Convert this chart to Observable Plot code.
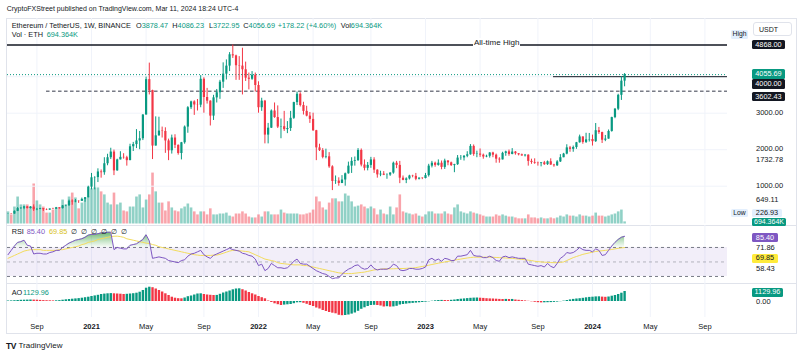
<!DOCTYPE html>
<html><head><meta charset="utf-8">
<script src="https://cdn.jsdelivr.net/npm/d3@7"></script>
<script src="https://cdn.jsdelivr.net/npm/@observablehq/plot@0.6"></script>
<style>
html,body{margin:0;padding:0;background:#fff;}
#root{position:relative;width:800px;height:357px;overflow:hidden;font-family:"Liberation Sans",Arial,sans-serif;color:#131722;background:#fff;}
.abs{position:absolute;white-space:nowrap;}
#root > svg{position:absolute;}
</style></head><body><div id="root"></div><script>
// ===== DATA (weekly ETH/USDT candles, Binance, first week starting 2020-07-06) =====
const firstWeek = "2020-07-06";
const opens = [
241,242,236,311,386,395,433,388,428,353,
365,385,355,346,375,369,407,386,460,465,
590,570,590,585,640,685,975,1230,1236,1390,
1370,1615,1780,1935,1420,1720,1790,1780,1700,2080,
2140,2240,2300,2950,3920,3620,2100,2380,2510,2500,
2240,1970,2320,2120,1895,2190,2620,3150,3310,3225,
3220,3930,3430,3330,2920,3420,3560,3850,4070,4290,
4600,4570,4300,4290,4190,3960,3930,4040,3760,3150,
3330,2400,2590,3060,2880,2620,2630,2550,2580,2860,
3290,3520,3210,3050,2920,2830,2520,2050,1975,1790,
1805,1530,1130,1140,1075,1170,1340,1550,1680,1700,
1980,1580,1490,1570,1720,1440,1310,1330,1300,1305,
1360,1630,1570,1220,1160,1200,1280,1270,1190,1220,
1210,1290,1550,1630,1570,1630,1515,1690,1640,1565,
1590,1770,1775,1820,1860,2090,1870,1880,1850,1800,
1820,1910,1850,1740,1720,1900,1940,1870,1935,1890,
1860,1830,1850,1680,1650,1630,1620,1640,1590,1670,
1580,1560,1665,1780,1880,2050,2010,2060,2190,2350,
2200,2270,2280,2220,2520,2470,2260,2290,2500,2880,
3110,3490,3878.47];
const highs = [
249,245,322,415,410,445,443,440,488,390,
395,387,376,379,396,419,412,469,480,620,
625,635,600,675,690,1000,1350,1260,1476,1445,
1780,1875,2040,1990,1740,1945,1890,1820,2150,2200,
2550,2500,2960,3990,4372,3630,2900,2890,2620,2600,
2290,2400,2410,2130,2200,2650,3180,3330,3340,3375,
4030,3970,3680,3340,3490,3650,3900,4380,4460,4660,
4868,4590,4550,4780,4400,4100,4140,4100,3860,3410,
3350,2720,3090,3280,3200,2840,3050,2770,3050,3300,
3580,3560,3300,3190,3020,3000,2530,2150,2030,2015,
1920,1560,1280,1230,1290,1360,1660,1780,1800,2030,
2020,1720,1650,1790,1780,1450,1410,1400,1340,1370,
1660,1680,1680,1280,1230,1300,1300,1350,1230,1230,
1350,1600,1680,1660,1720,1690,1740,1700,1660,1600,
1840,1840,1840,1945,2140,2130,1960,2020,1880,1850,
1920,1930,1880,1780,1930,1960,1990,2030,1950,1890,
1880,1870,1860,1740,1750,1660,1650,1680,1690,1750,
1600,1700,1865,1900,2135,2090,2100,2200,2400,2350,
2450,2445,2400,2717,2610,2480,2390,2540,2890,3130,
3520,4000,4086.23];
const lows = [
236,226.93,234,304,367,357,375,376,309,330,
357,308,332,335,360,365,370,375,438,448,
478,545,530,585,560,680,900,900,1100,1220,
1300,1560,1730,1290,1410,1720,1740,1550,1700,1950,
2030,2000,2250,2950,3500,1730,2100,2370,2320,1900,
1700,1880,2030,1850,1720,2150,2450,3100,2940,3060,
3150,3000,3250,2650,2800,3280,3380,3680,3910,4140,
4500,3900,3900,3500,3870,3640,3900,3580,3000,3050,
2160,2160,2580,2860,2580,2300,2500,2440,2500,2830,
3210,3170,2950,2900,2720,2500,1700,1950,1750,1750,
1490,880,1050,1000,1070,1000,1330,1350,1550,1680,
1530,1420,1420,1490,1350,1220,1260,1290,1190,1270,
1330,1480,1070,1150,1070,1170,1230,1150,1170,1180,
1200,1250,1500,1520,1550,1450,1460,1560,1540,1370,
1570,1710,1690,1780,1850,1820,1780,1790,1740,1780,
1770,1780,1630,1630,1720,1820,1820,1860,1850,1830,
1820,1800,1550,1600,1600,1550,1530,1570,1570,1570,
1520,1540,1650,1780,1860,1930,1930,2010,2180,2150,
2170,2210,2100,2200,2420,2170,2220,2290,2480,2850,
3070,3350,3722.95];
const closes = [
242,236,311,386,395,433,388,428,353,365,
385,355,346,375,369,407,386,460,465,590,
570,590,585,640,685,975,1230,1236,1390,1370,
1615,1780,1935,1420,1720,1790,1780,1700,2080,2140,
2240,2300,2950,3920,3620,2100,2380,2510,2500,2240,
1970,2320,2120,1895,2190,2620,3150,3310,3225,3220,
3930,3430,3330,2920,3420,3560,3850,4070,4290,4600,
4570,4300,4290,4190,3960,3930,4040,3760,3150,3330,
2400,2590,3060,2880,2620,2630,2550,2580,2860,3290,
3520,3210,3050,2920,2830,2520,2050,1975,1790,1805,
1530,1130,1140,1075,1170,1340,1550,1680,1700,1980,
1580,1490,1570,1720,1440,1310,1330,1300,1305,1360,
1630,1570,1220,1160,1200,1280,1270,1190,1220,1210,
1290,1550,1630,1570,1630,1515,1690,1640,1565,1590,
1770,1775,1820,1860,2090,1870,1880,1850,1800,1820,
1910,1850,1740,1720,1900,1940,1870,1935,1890,1860,
1830,1850,1680,1650,1630,1620,1640,1590,1670,1580,
1560,1665,1780,1880,2050,2010,2060,2190,2350,2200,
2270,2280,2220,2520,2470,2260,2290,2500,2880,3110,
3490,3878.47,4056.69];
// volume, millions of ETH
const volumes = [
4.0,3.0,5.6,8.9,6.3,6.3,6.3,5.6,13.2,7.6,
6.3,5.6,3.6,3.6,4.6,5.3,5.3,7.9,6.3,8.9,
10.2,8.6,5.0,6.9,8.3,8.9,11.6,11.9,11.9,10.6,
9.6,6.9,6.3,10.2,6.3,6.9,4.3,4.0,5.6,5.6,
8.9,9.6,5.3,7.9,9.6,16.8,10.6,6.9,6.9,4.3,
7.3,5.3,4.3,4.0,5.0,5.6,6.6,5.3,4.0,3.0,
4.0,4.0,3.0,5.0,3.0,3.0,3.3,3.3,3.6,2.6,
2.3,3.3,3.3,4.0,3.3,2.3,2.0,2.0,3.0,2.3,
4.0,4.0,3.0,3.0,3.0,4.6,3.6,3.3,3.3,3.3,
3.3,3.0,3.0,3.3,3.6,4.6,8.9,7.3,5.3,4.6,
6.9,8.3,8.3,7.3,7.3,9.9,9.2,7.3,5.6,5.9,
6.3,5.6,5.0,5.6,5.0,3.0,4.6,3.3,3.0,5.6,
3.0,5.3,9.6,4.0,3.6,3.3,3.0,3.3,2.6,2.3,
3.0,4.0,4.0,3.3,3.3,3.3,4.0,3.3,3.0,5.3,
6.3,4.0,3.6,3.3,4.0,3.6,3.3,3.0,2.6,2.3,
2.3,2.3,3.0,2.6,3.0,2.6,2.3,2.3,2.0,1.7,
1.7,1.7,3.0,2.0,2.0,1.7,2.0,1.7,1.7,2.0,
1.7,2.0,2.6,2.3,3.0,2.6,2.6,2.3,3.0,2.6,
2.6,2.3,2.6,3.6,2.6,2.6,2.3,2.6,3.0,3.3,
4.0,4.6,0.694];
const rsi = [
60,66,72,77,78,80,73,72,61,62,
62,61,61,63,64,66,66,70,73,76,
78,80,81,82,84,87,88,88,89,90,
90,91,91,67,70,69,68,68,73,74,
75,78,81,87.5,79,55,56,57,56,55,
52,51,50,49,52,53,58,61,62,64,
66,60,57,55,59,61,63,65,67,69,
67,66,65,62,61,59,58,54,45,47,
38,41,48,45,42,42,41,42,46,51,
54,48,47,47,44,41,38,36,34,33,
30,27,28,28,33,37,40,42,45,46,
42,40,41,46,41,39,40,40,40,42,
47,45,39,38,39,41,41,40,40,41,
43,53,55,52,54,51,55,54,52,52,
58,58,59,60,66,59,58,58,56,56,
58,56,52,51,57,58,56,57,56,55,
55,55,47,46,45,44,45,43,48,44,
42,48,55,58,63,62,63,66,70,67,
66,66,64,68,66,59,60,66,72,77,
81,84,85.4];
const rsiMa = [
55,57,59,61,63,65,66,67,67,67,
67,66,66,66,66,66,67,67,68,69,
70,71,72,74,75,77,78,79,81,82,
83,84,85,85.5,85.6,85,84,82,81,80,
79,78,77,76,75.5,74,73,71,70,69,
68,67,66,65,64,63,62,61,60,59.5,
59,59,59,59,59.5,59.5,60.5,62,63.5,65,
66,66,65.5,65,64.5,64,62,60,58,56,
54,53,52,51,49,48,47.5,47,46.5,46,
46,46,45,45,44,43,42,41,40,39,
38,37,36,35,34.5,34,34,34,34.5,35,
35.5,36,37,38,39,39.5,40,40.5,40.5,40.5,
40.6,40.8,41,41,41.2,41.5,41.5,42.2,43,43.8,
44.6,45.5,46.5,47.4,48.3,49.2,50,50.8,51.7,52.5,
53.3,54,54.8,55.5,56.1,56.6,56.6,56.6,56.6,56.6,
56.6,56.5,56.2,56,55.7,55.5,55.2,55,54.5,54,
53.5,53,52.5,52,51,50.5,50,49.7,49.5,49.2,
49,49,49.5,50,52,54,56,57.5,59,60.5,
61.5,62.5,63.5,64.5,65,65.5,66,66.5,67.3,68,
68.8,69.4,69.85];
const ao = [
57,68,90,113,136,147,158,170,158,147,
124,102,90,79,68,79,102,147,192,226,
260,294,328,373,429,486,565,633,701,791,
836,870,893,870,848,825,791,814,848,881,
938,1051,1243,1503,1616,1559,1413,1243,1074,870,
678,486,373,316,305,396,542,622,735,848,
870,791,735,701,678,689,814,961,1074,1187,
1322,1413,1435,1333,1187,1017,870,735,565,429,
305,57,-113,-260,-362,-452,-407,-373,-339,-249,
-147,-136,-203,-316,-452,-565,-735,-848,-1017,-1130,
-1243,-1322,-1390,-1559,-1605,-1582,-1526,-1424,-1300,-1107,
-881,-712,-565,-452,-429,-452,-509,-622,-588,-633,
-610,-542,-396,-339,-294,-249,-215,-181,-147,-113,
-79,-34,34,79,113,124,113,102,136,170,
226,260,294,328,362,384,396,373,350,316,
294,283,260,237,226,237,226,232,170,136,
102,68,23,-34,-90,-136,-158,-147,-136,-124,
-102,-68,-23,45,113,181,237,283,316,362,
418,463,486,520,531,497,475,509,599,678,
791,938,1129.96];
const tickDates = ["2020-09-07","2021-01-04","2021-05-03","2021-09-06","2022-01-03","2022-05-02","2022-09-05","2023-01-02","2023-05-01","2023-09-04","2024-01-01","2024-05-06","2024-09-02"];
const tickLabels = ["Sep","2021","May","Sep","2022","May","Sep","2023","May","Sep","2024","May","Sep"];
const priceGrid = [1000,2000,3000,4000];
const athPrice = 4868, lastPrice = 4056.69;
const supportLevel = 3602.43, supportFrom = "2020-09-28";
const level4000 = 4000, level4000From = "2023-10-08";

// ===== LAYOUT =====
const root = document.getElementById("root");
const UP = "#089981", DN = "#f23645", INK = "#131722", GRID = "#f0f3fa", SEP = "#e0e3eb";
const W = 800, ML = 7, MR = 73;
const WEEK = 7 * 864e5;
const t0 = new Date(firstWeek).getTime();
const xDomain = [new Date(t0 - 0.156 * WEEK), new Date(t0 + 224.04 * WEEK)];
const X = {type: "utc", domain: xDomain, axis: null};
const FONT = "Liberation Sans, Arial, sans-serif";

const rows = closes.map((c, i) => ({
  d: new Date(t0 + i * WEEK), o: opens[i], h: highs[i], l: lows[i], c,
  v: volumes[i], rsi: rsi[i], ma: rsiMa[i], ao: ao[i],
  up: c >= opens[i], aoUp: i === 0 ? true : ao[i] >= ao[i - 1]
}));
const ticks = tickDates.map((s, i) => ({d: new Date(s), label: tickLabels[i], year: /^\d/.test(tickLabels[i])}));

function div(style, html) {
  const d = document.createElement("div");
  d.className = "abs";
  Object.assign(d.style, style);
  if (html != null) d.innerHTML = html;
  root.appendChild(d);
  return d;
}
function label(html, x, yc, o = {}) {
  const fs = o.fs || 7.3;
  return div({left: x + "px", top: (yc - fs * 0.6) + "px", fontSize: fs + "px", lineHeight: (fs * 1.2) + "px",
    color: o.color || INK, fontWeight: o.weight || "normal", background: o.bg || "transparent", padding: o.pad || "0"}, html);
}
function box(text, x, top, w, h, bg, color, extra = {}) {
  return div(Object.assign({left: x + "px", top: top + "px", width: w + "px", height: h + "px", lineHeight: h + "px",
    background: bg, color, fontSize: "7.3px", textAlign: "center", borderRadius: "1.5px"}, extra), text);
}
function place(svg, top) { svg.style.left = "0px"; svg.style.top = top + "px"; root.appendChild(svg); return svg; }
const baseStyle = {background: "transparent", overflow: "visible", fontFamily: FONT};

// frame
div({left: "6px", top: "18px", width: "791px", height: "316px", border: "1px solid " + SEP, boxSizing: "border-box"});
// pane separators
div({left: "6px", top: "225px", width: "791px", height: "1px", background: SEP});
div({left: "6px", top: "283px", width: "791px", height: "1px", background: SEP});

// volume pane (under candles) + vertical grid
place(Plot.plot({
  width: W, height: 207, marginLeft: ML, marginRight: MR, marginTop: 0, marginBottom: 1.5,
  x: X, y: {domain: [0, 67.8], axis: null}, style: baseStyle,
  marks: [
    Plot.ruleX(ticks, {x: "d", stroke: GRID}),
    Plot.ruleX(rows.filter(r => r.up), {x: "d", y1: 0, y2: "v", stroke: UP, strokeOpacity: 0.45, strokeWidth: 2.6}),
    Plot.ruleX(rows.filter(r => !r.up), {x: "d", y1: 0, y2: "v", stroke: DN, strokeOpacity: 0.45, strokeWidth: 2.6})
  ]
}), 18);

// price pane
place(Plot.plot({
  width: W, height: 207, marginLeft: ML, marginRight: MR, marginTop: 0, marginBottom: 0,
  x: X, y: {domain: [-76.7, 5594.5], axis: null}, style: baseStyle,
  marks: [
    Plot.ruleY(priceGrid, {stroke: GRID}),
    Plot.ruleY([lastPrice], {stroke: UP, strokeDasharray: "1,2", strokeWidth: 1}),
    Plot.ruleY([{y: supportLevel, x1: new Date(supportFrom), x2: xDomain[1]}], {y: "y", x1: "x1", x2: "x2", stroke: "#787b86", strokeWidth: 1.5, strokeDasharray: "3.5,2.5"}),
    Plot.ruleY([{y: level4000, x1: new Date(level4000From), x2: xDomain[1]}], {y: "y", x1: "x1", x2: "x2", stroke: INK, strokeWidth: 1}),
    Plot.ruleY([athPrice], {stroke: INK, strokeWidth: 1.3}),
    Plot.ruleX(rows.filter(r => r.up), {x: "d", y1: "l", y2: "h", stroke: UP, strokeWidth: 1}),
    Plot.ruleX(rows.filter(r => !r.up), {x: "d", y1: "l", y2: "h", stroke: DN, strokeWidth: 1}),
    Plot.ruleX(rows.filter(r => r.up), {x: "d", y1: "o", y2: "c", stroke: UP, strokeWidth: 2.2}),
    Plot.ruleX(rows.filter(r => !r.up), {x: "d", y1: "o", y2: "c", stroke: DN, strokeWidth: 2.2})
  ]
}), 18);

// RSI pane
const rsiSvg = place(Plot.plot({
  width: W, height: 58, marginLeft: ML, marginRight: MR, marginTop: 0, marginBottom: 0,
  x: X, y: {domain: [20.3, 100.3], axis: null}, style: baseStyle,
  marks: [
    Plot.ruleX(ticks, {x: "d", stroke: GRID}),
    Plot.rect([{x1: xDomain[0], x2: xDomain[1], y1: 30, y2: 70}], {x1: "x1", x2: "x2", y1: "y1", y2: "y2", fill: "#7e57c2", fillOpacity: 0.1}),
    Plot.ruleY([70, 30], {stroke: "#787b86", strokeDasharray: "3,3", strokeWidth: 1}),
    Plot.ruleY([50], {stroke: "#787b86", strokeOpacity: 0.5, strokeDasharray: "3,3", strokeWidth: 1}),
    Plot.areaY(rows, {x: "d", y1: 70, y2: r => Math.max(r.rsi, 70), fill: "url(#obGrad)"}),
    Plot.line(rows, {x: "d", y: "ma", stroke: "#f2dc5d", strokeWidth: 1}),
    Plot.line(rows, {x: "d", y: "rsi", stroke: "#7e57c2", strokeWidth: 1})
  ]
}), 225);
{
  const ys = rsiSvg.scale("y");
  const defs = document.createElementNS("http://www.w3.org/2000/svg", "defs");
  defs.innerHTML = `<linearGradient id="obGrad" gradientUnits="userSpaceOnUse" x1="0" x2="0" y1="${ys.apply(92)}" y2="${ys.apply(70)}"><stop offset="0" stop-color="#43a047" stop-opacity="0.85"/><stop offset="1" stop-color="#66bb6a" stop-opacity="0.05"/></linearGradient>`;
  rsiSvg.insertBefore(defs, rsiSvg.firstChild);
}

// AO pane
place(Plot.plot({
  width: W, height: 34, marginLeft: ML, marginRight: MR, marginTop: 0, marginBottom: 0,
  x: X, y: {domain: [-1808, 2034], axis: null}, style: baseStyle,
  marks: [
    Plot.ruleX(ticks, {x: "d", stroke: GRID}),
    Plot.ruleX(rows.filter(r => r.aoUp), {x: "d", y1: 0, y2: "ao", stroke: UP, strokeWidth: 2.4}),
    Plot.ruleX(rows.filter(r => !r.aoUp), {x: "d", y1: 0, y2: "ao", stroke: DN, strokeWidth: 2.4})
  ]
}), 283);

// time axis
place(Plot.plot({
  width: W, height: 17, marginLeft: ML, marginRight: MR, marginTop: 2, marginBottom: 0,
  x: X, style: baseStyle,
  marks: [
    Plot.text(ticks.filter(t => !t.year), {x: "d", text: "label", fontSize: 7.5, fill: INK}),
    Plot.text(ticks.filter(t => t.year), {x: "d", text: "label", fontSize: 7.5, fill: INK, fontWeight: "bold"})
  ]
}), 317);

// ===== TEXTS =====
label("CryptoFXStreet published on TradingView.com, Mar 11, 2024 18:24 UTC-4", 6.7, 9, {fs: 7});
const L2 = 26;
label("Ethereum / TetherUS, 1W, BINANCE", 11.7, L2);
label("O<span style='color:#089981'>3878.47</span>", 136, L2);
label("H<span style='color:#089981'>4086.23</span>", 172.3, L2);
label("L<span style='color:#089981'>3722.95</span>", 209, L2);
label("C<span style='color:#089981'>4056.69</span>", 243.3, L2);
label("+178.22 (+4.60%)", 277.7, L2, {color: UP});
label("Vol<span style='color:#089981'>694.364K</span>", 340.7, L2);
label("Vol · ETH", 11.7, 35.7);
label("694.364K", 46.7, 35.7, {color: UP});
label("All-time High", 473, 42.5, {fs: 8, bg: "#fff", pad: "0 1px"});

label("RSI", 11.7, 232.3);
label("85.40", 26.7, 232.3, {color: "#7e57c2"});
label("69.85", 49, 232.3, {color: "#d8bf1c"});
label("∅&nbsp;&nbsp;∅&nbsp;&nbsp;∅&nbsp;&nbsp;∅&nbsp;&nbsp;∅&nbsp;&nbsp;∅", 71, 232.3);
label("AO", 11.7, 293.3);
label("1129.96", 23, 293.3, {color: UP});

// right price scale
box("USDT", 753, 21.7, 39, 14, "#fff", INK, {border: "1px solid " + SEP, boxSizing: "border-box", textAlign: "left", paddingLeft: "5px", borderRadius: "3px", fontSize: "7px"});
box("High", 731, 30, 17, 8.5, "#e3effd", INK, {fontSize: "6.8px"});
box("4868.00", 752, 40, 33, 9.3, INK, "#fff");
box("4055.69", 752, 69.3, 33, 9.3, UP, "#fff");
box("4000.00", 752, 79.3, 33, 9.3, INK, "#fff");
box("3602.43", 752, 91.7, 33, 9.3, INK, "#fff");
label("3000.00", 756, 112.3, {fs: 7.5});
label("2000.00", 756, 148.5, {fs: 7.5});
label("1732.78", 756, 159.3, {fs: 7.5});
label("1000.00", 756, 185.3, {fs: 7.5});
label("649.11", 756, 199, {fs: 7.5});
box("Low", 731, 208.5, 17, 8.5, "#e3effd", INK, {fontSize: "6.8px"});
box("226.93", 752, 208.5, 30, 8.5, "#e3effd", INK);
box("694.364K", 752, 217.5, 34, 8.5, UP, "#fff", {fontSize: "7px"});
box("85.40", 752, 233, 26, 9, "#7e57c2", "#fff");
label("71.86", 756, 247.7, {fs: 7.5});
box("69.85", 752, 254, 26, 8.5, "#ffeb3b", INK);
label("58.43", 756, 268, {fs: 7.5});
box("1129.96", 752, 288, 31, 8.5, UP, "#fff");
label("0.00", 756, 301, {fs: 7.5});

// footer logo
label("<b style='letter-spacing:-0.5px'>TV</b>", 6, 346, {fs: 8.5});
label("TradingView", 18.5, 346, {fs: 8});
</script></body></html>
